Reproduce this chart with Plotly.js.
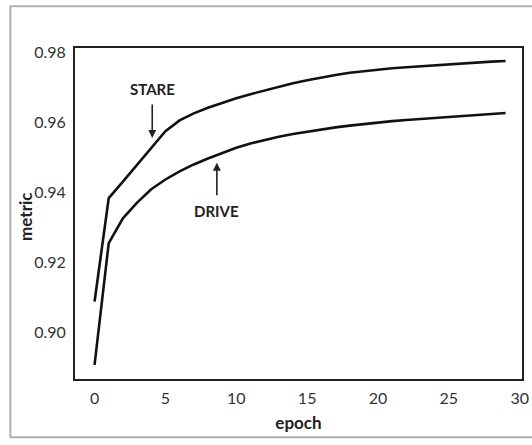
<!DOCTYPE html>
<html>
<head>
<meta charset="utf-8">
<script src="https://cdn.plot.ly/plotly-3.0.1.min.js"></script>
<style>html,body{margin:0;padding:0;background:#fff;}#chart{width:532px;height:445px;}</style>
</head>
<body>
<div id="chart"></div>
<script>
var epochs = [0,1,2,3,4,5,6,7,8,9,10,11,12,13,14,15,16,17,18,19,20,21,22,23,24,25,26,27,28,29];
var stare = [0.9087,0.9383,0.9430,0.9477,0.9527,0.9574,0.9605,0.9625,0.9641,0.9655,
             0.9668,0.9680,0.9691,0.9701,0.9711,0.9720,0.9728,0.9735,0.9741,0.9746,
             0.9750,0.9754,0.9757,0.9760,0.9763,0.9766,0.9768,0.9771,0.9773,0.9775];
var drive = [0.8906,0.9254,0.9325,0.9370,0.9408,0.9436,0.9459,0.9479,0.9496,0.9512,
             0.9527,0.9539,0.9549,0.9558,0.9566,0.9573,0.9579,0.9585,0.9590,0.9595,
             0.9599,0.9603,0.9606,0.9609,0.9612,0.9615,0.9618,0.9621,0.9624,0.9626];
var xTicks = [0,5,10,15,20,25,30];
var yTicks = [0.90,0.92,0.94,0.96,0.98];
var yTickText = ["0.90","0.92","0.94","0.96","0.98"];

var font = "Lato, 'Open Sans', sans-serif";
var lineStyle = {color:'#111', width:2.6};

var traces = [
  {x:epochs, y:stare, mode:'lines', name:'STARE', line:lineStyle, hoverinfo:'skip'},
  {x:epochs, y:drive, mode:'lines', name:'DRIVE', line:lineStyle, hoverinfo:'skip'}
];

var layout = {
  width:532, height:445,
  margin:{l:74.7, r:9.7, t:48.3, b:66},
  paper_bgcolor:'#fff', plot_bgcolor:'#fff',
  showlegend:false,
  font:{family:font, color:'#333', size:16},
  xaxis:{
    range:[-1.38,30.16], tickvals:xTicks, ticktext:xTicks.map(String),
    showgrid:false, zeroline:false,
    showline:true, mirror:true, linecolor:'#222', linewidth:2,
    ticks:'outside', ticklen:4, tickcolor:'rgba(0,0,0,0)',
    tickfont:{family:font, size:16, color:'#333'},
    title:{text:'<b>epoch</b>', font:{family:font, size:17, color:'#222'}, standoff:11}
  },
  yaxis:{
    range:[0.88655,0.9812], tickvals:yTicks, ticktext:yTickText,
    showgrid:false, zeroline:false,
    showline:true, mirror:true, linecolor:'#222', linewidth:2,
    ticks:'outside', ticklen:4, tickcolor:'rgba(0,0,0,0)',
    tickfont:{family:font, size:16, color:'#333'}
  },
  shapes:[
    {type:'rect', xref:'paper', yref:'paper', x0:-0.1446, x1:1.06, y0:-0.1763, y1:1.1258,
     line:{color:'#b0b0b0', width:2}, fillcolor:'rgba(0,0,0,0)', layer:'below'}
  ],
  annotations:[
    {x:-0.1110, y:0.4908, xref:'paper', yref:'paper', text:'<b>metric</b>', textangle:-90,
     showarrow:false, xanchor:'center', yanchor:'middle',
     font:{family:font, size:17, color:'#222'}},
    {x:4.07, y:0.9695, xref:'x', yref:'y', text:'<b>STARE</b>', showarrow:false,
     font:{family:font, size:15, color:'#222'}},
    {x:4.07, y:0.9555, ax:4.07, ay:0.9655, xref:'x', yref:'y', axref:'x', ayref:'y',
     text:'', showarrow:true, arrowhead:2, arrowsize:1, arrowwidth:1.6, arrowcolor:'#222', standoff:0, startstandoff:0},
    {x:8.63, y:0.9346, xref:'x', yref:'y', text:'<b>DRIVE</b>', showarrow:false,
     font:{family:font, size:15, color:'#222'}},
    {x:8.63, y:0.9484, ax:8.63, ay:0.9387, xref:'x', yref:'y', axref:'x', ayref:'y',
     text:'', showarrow:true, arrowhead:2, arrowsize:1, arrowwidth:1.6, arrowcolor:'#222', standoff:0, startstandoff:0}
  ]
};

Plotly.newPlot('chart', traces, layout, {staticPlot:true, displayModeBar:false});
</script>
</body>
</html>
